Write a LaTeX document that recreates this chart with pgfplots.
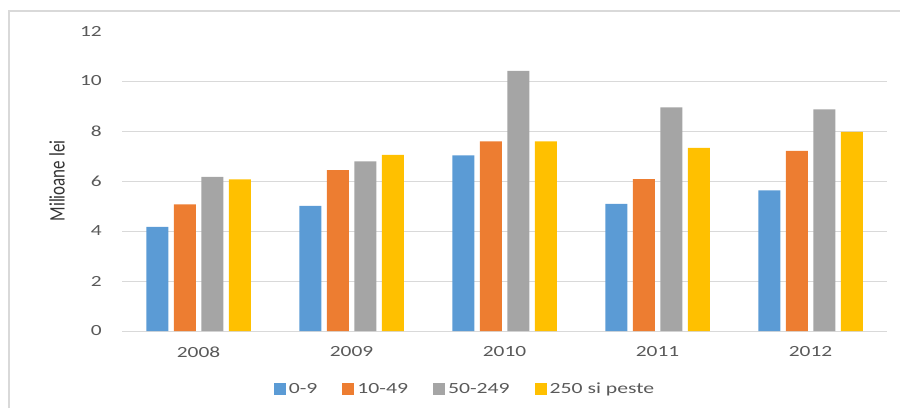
\documentclass[border=0pt]{standalone}
\usepackage{pgfplots}
\pgfplotsset{compat=1.18}
\usepackage{fontspec}
\setmainfont{Carlito}
\definecolor{cblue}{HTML}{5B9BD5}
\definecolor{corange}{HTML}{ED7D31}
\definecolor{cgray}{HTML}{A5A5A5}
\definecolor{cyellow}{HTML}{FFC000}
\definecolor{gridc}{HTML}{D9D9D9}
\definecolor{framec}{HTML}{D9D9D9}
\definecolor{tickc}{HTML}{595959}
\begin{document}
\begin{tikzpicture}[x=1pt,y=1pt]
\path[use as bounding box] (0,0) rectangle (900,408);
\draw[color=framec, line width=1.6pt] (9,0) -- (9,397) -- (900,397);
\begin{axis}[
  at={(122pt,77pt)}, anchor=south west, scale only axis,
  width=765pt, height=300pt,
  /pgf/number format/assume math mode=true,
  ybar=5.5pt, bar width=22pt,
  xmin=-0.5, xmax=4.5, ymin=0, ymax=12,
  xtick={0,1,2,3,4},
  xticklabels={\scalebox{1.38}[1]{2008},\scalebox{1.38}[1]{2009},\scalebox{1.38}[1]{2010},\scalebox{1.38}[1]{2011},\scalebox{1.38}[1]{2012}},
  ytick={0,2,4,6,8,10}, extra y ticks={12}, extra y tick style={grid=none},
  yticklabel={\scalebox{1.38}[1]{\pgfmathprintnumber[assume math mode=true]{\tick}}},
  ymajorgrids, grid style={color=gridc, line width=1pt},
  axis line style={draw=none}, major tick length=0pt,
  tick label style={font=\fontsize{15.5}{18}\selectfont, text=tickc, inner sep=0pt},
  yticklabel style={anchor=east, xshift=-20pt},
  xticklabel style={anchor=north, yshift=-15.5pt},
  ylabel={\scalebox{1}[1.3]{Milioane lei}},
  ylabel style={at={(axis description cs:-0.085,0.5)}, anchor=center, font=\fontsize{17}{20}\selectfont, text=black!80},
  legend style={at={(0.449,-0.193)}, anchor=center, draw=none, fill=none,
    legend columns=-1, font=\fontsize{15.5}{18}\selectfont, text=tickc,
    /tikz/every even column/.append style={column sep=22pt},
    nodes={inner sep=3pt}},
  legend image code/.code={\fill[#1] (0pt,-6pt) rectangle (12pt,6pt);},
]
\addplot[fill=cblue, draw=none] coordinates {(0,4.17) (1,5.01) (2,7.03) (3,5.09) (4,5.63)};
\addlegendentry{\scalebox{1.4}[1]{0-9}}
\addplot[fill=corange, draw=none] coordinates {(0,5.07) (1,6.44) (2,7.59) (3,6.08) (4,7.21)};
\addlegendentry{\scalebox{1.4}[1]{10-49}}
\addplot[fill=cgray, draw=none] coordinates {(0,6.17) (1,6.79) (2,10.41) (3,8.95) (4,8.87)};
\addlegendentry{\scalebox{1.4}[1]{50-249}}
\addplot[fill=cyellow, draw=none] coordinates {(0,6.07) (1,7.05) (2,7.59) (3,7.33) (4,7.97)};
\addlegendentry{\scalebox{1.4}[1]{250 si peste}}
\end{axis}
\end{tikzpicture}
\end{document}
